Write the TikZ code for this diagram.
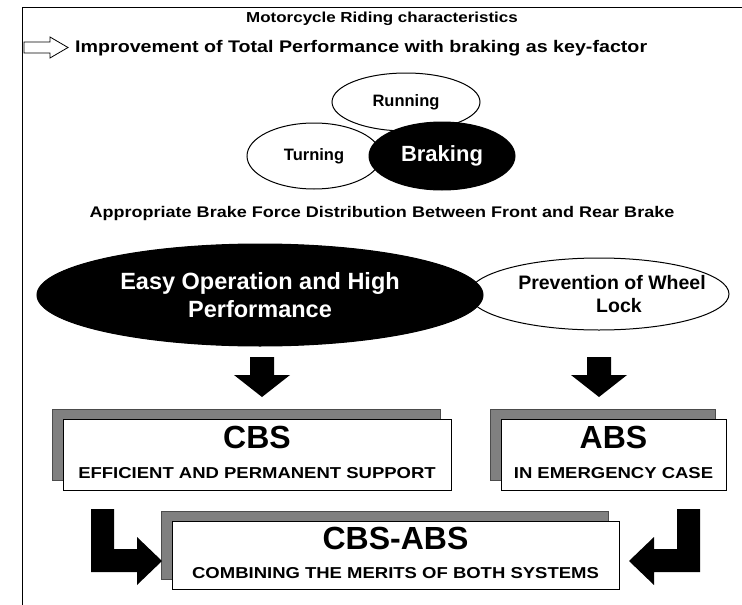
\documentclass[tikz,border=0pt]{standalone}
\usepackage{fontspec}
\setmainfont{Liberation Sans}
\newfontfamily\widesans{Liberation Sans}[FakeStretch=1.17]
\usetikzlibrary{shapes.geometric,shadows}
\begin{document}
\begin{tikzpicture}[x=1pt,y=-1pt,
  hd/.style={font=\widesans\bfseries\fontsize{#1}{#1}\selectfont, inner sep=0pt},
  oval/.style={ellipse, draw, line width=1pt, inner sep=0pt, align=center},
  blackoval/.style={oval, fill=black, text=white},
  whiteoval/.style={oval, fill=white},
  sysbox/.style={draw, line width=1pt, fill=white, inner sep=0pt,
     drop shadow={shadow xshift=-11pt, shadow yshift=10pt, fill=black!50, draw=black!70, opacity=1}},
  bigtxt/.style={font=\bfseries\fontsize{32}{34}\selectfont, inner sep=0pt},
  subtxt/.style={font=\widesans\bfseries\fontsize{15.8}{18}\selectfont, inner sep=0pt},
  locktxt/.style={font=\bfseries\fontsize{19.5}{23}\selectfont, inner sep=0pt},
  blockarrow/.style={fill=black},
]
\useasboundingbox (0,0) rectangle (742,605);

% open frame: left and top edges only
\draw[line width=1pt] (22,605) -- (22,7) -- (742,7);

% heading lines
\node[hd=14.5] (title) at (382,19) {Motorcycle Riding characteristics};
\draw[line width=0.8pt] (24,42) -- (50,42) -- (50,37) -- (68,47.5) -- (50,58) -- (50,53) -- (24,53) -- cycle;
\node[hd=16.8, anchor=west] (improve) at (75,48) {Improvement of Total Performance with braking as key-factor};

% riding characteristics
\node[oval, minimum width=148pt, minimum height=58pt, font=\bfseries\fontsize{16.5}{18}\selectfont] (running) at (406,102) {Running};
\node[oval, minimum width=134pt, minimum height=66pt, font=\bfseries\fontsize{16.5}{18}\selectfont] (turning) at (314,156) {Turning};
\node[blackoval, minimum width=146pt, minimum height=68pt, font=\bfseries\fontsize{22}{24}\selectfont] (braking) at (442,156) {Braking};

\node[hd=15.4] (distrib) at (382,214) {Appropriate Brake Force Distribution Between Front and Rear Brake};

% goals
\node[whiteoval, minimum width=260pt, minimum height=72pt] (lock) at (599,294) {};
\node[locktxt] (lockA) at (612,283) {Prevention of Wheel};
\node[locktxt] (lockB) at (619,306) {Lock};
\node[blackoval, minimum width=446pt, minimum height=102pt, font=\bfseries\fontsize{23.5}{28}\selectfont] (easy) at (260,295) {Easy Operation and High\\Performance};

% downward block arrows
\fill[blockarrow] (250,357) -- (274,357) -- (274,375) -- (290,375) -- (262,397) -- (234,375) -- (250,375) -- cycle;
\fill[blockarrow] (587,357) -- (611,357) -- (611,375) -- (627,375) -- (599,397) -- (571,375) -- (587,375) -- cycle;

% systems
\node[sysbox, minimum width=388pt, minimum height=71pt] (cbs) at (257,454.5) {};
\node[bigtxt] (cbsT) at (257,437) {CBS};
\node[subtxt] (cbsS) at (257,473) {EFFICIENT AND PERMANENT SUPPORT};

\node[sysbox, minimum width=225pt, minimum height=71pt] (abs) at (613.5,454.5) {};
\node[bigtxt] (absT) at (613.5,437) {ABS};
\node[subtxt] (absS) at (613.5,473) {IN EMERGENCY CASE};

\node[sysbox, minimum width=447pt, minimum height=68pt] (both) at (395.5,555) {};
\node[bigtxt] (bothT) at (395.5,538) {CBS-ABS};
\node[subtxt] (bothS) at (395.5,573) {COMBINING THE MERITS OF BOTH SYSTEMS};

% L-shaped block arrows into the combined system
\fill[blockarrow] (91,509) -- (114,509) -- (114,549) -- (137,549) -- (137,537) -- (162,561) -- (137,585) -- (137,572) -- (91,572) -- cycle;
\fill[blockarrow] (700,509) -- (677,509) -- (677,549) -- (654,549) -- (654,537) -- (629,561) -- (654,585) -- (654,572) -- (700,572) -- cycle;
\end{tikzpicture}
\end{document}
